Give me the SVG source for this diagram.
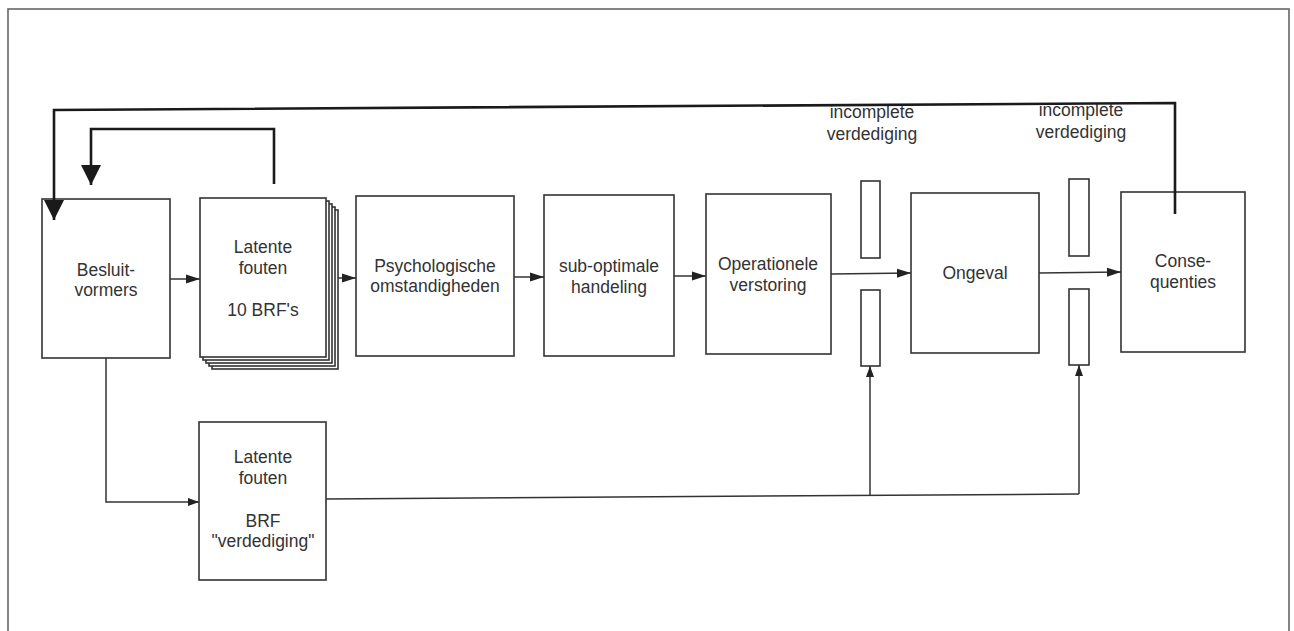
<svg xmlns="http://www.w3.org/2000/svg" width="1294" height="631" viewBox="0 0 1294 631">
<defs>
<marker id="arr" markerUnits="userSpaceOnUse" markerWidth="15" markerHeight="10" refX="14" refY="5" orient="auto">
<path d="M0,0.5 L14,5 L0,9.5 z" fill="#222"/>
</marker>
<marker id="arrS" markerUnits="userSpaceOnUse" markerWidth="12" markerHeight="10" refX="11" refY="4" orient="auto">
<path d="M0,0 L11,4 L0,8 z" fill="#222"/>
</marker>
<marker id="big" markerUnits="userSpaceOnUse" markerWidth="22" markerHeight="22" refX="20" refY="10" orient="auto">
<path d="M0,0 L20,10 L0,20 z" fill="#1a1a1a"/>
</marker>
<style>
.box{fill:#fff;stroke:#333;stroke-width:1.6}
.bar{fill:#fff;stroke:#333;stroke-width:1.6}
.ln{fill:none;stroke:#333;stroke-width:1.5}
.fb{fill:none;stroke:#1a1a1a;stroke-width:2.6}
text{font-family:"Liberation Sans",Arial,sans-serif;font-size:17.5px;fill:#333;text-anchor:middle}
</style>
</defs>
<rect x="8" y="9" width="1281" height="640" fill="#fff" stroke="#666" stroke-width="1.6"/>

<g id="besluitvormers">
<rect class="box" x="42" y="199" width="128" height="159"/>
<text x="106" y="276">Besluit-</text>
<text x="106" y="296">vormers</text>
</g>

<g id="latente-fouten-10">
<rect class="box" x="212" y="210" width="126" height="159"/>
<rect class="box" x="209" y="207" width="126" height="159"/>
<rect class="box" x="206" y="204" width="126" height="159"/>
<rect class="box" x="203" y="201" width="126" height="159"/>
<rect class="box" x="200" y="198" width="126" height="159"/>
<text x="263" y="253">Latente</text>
<text x="263" y="274">fouten</text>
<text x="263" y="316">10 BRF's</text>
</g>

<g id="psychologische">
<rect class="box" x="356" y="196" width="158" height="160"/>
<text x="435" y="272">Psychologische</text>
<text x="435" y="292">omstandigheden</text>
</g>

<g id="sub-optimale">
<rect class="box" x="544" y="195" width="130" height="161"/>
<text x="609" y="272">sub-optimale</text>
<text x="609" y="293">handeling</text>
</g>

<g id="operationele">
<rect class="box" x="706" y="194" width="125" height="160"/>
<text x="768" y="270">Operationele</text>
<text x="768" y="291">verstoring</text>
</g>

<g id="verdediging-1">
<rect class="bar" x="861" y="181" width="19" height="77"/>
<rect class="bar" x="861" y="290" width="19" height="76"/>
<text x="872" y="118">incomplete</text>
<text x="872" y="140">verdediging</text>
</g>

<g id="ongeval">
<rect class="box" x="911" y="193" width="128" height="160"/>
<text x="975" y="279">Ongeval</text>
</g>

<g id="verdediging-2">
<rect class="bar" x="1069" y="179" width="20" height="77"/>
<rect class="bar" x="1069" y="289" width="20" height="76"/>
<text x="1081" y="116">incomplete</text>
<text x="1081" y="138">verdediging</text>
</g>

<g id="consequenties">
<rect class="box" x="1121" y="192" width="124" height="160"/>
<text x="1183" y="267">Conse-</text>
<text x="1183" y="288">quenties</text>
</g>

<g id="latente-fouten-brf">
<rect class="box" x="199" y="422" width="127" height="158"/>
<text x="263" y="463">Latente</text>
<text x="263" y="484">fouten</text>
<text x="263" y="527">BRF</text>
<text x="263" y="547">"verdediging"</text>
</g>

<g id="connectors">
<polyline class="fb" points="1175,214 1175,103 54,110 54,220" marker-end="url(#big)"/>
<polyline class="fb" points="274,184 274,129 91,129 91,185" marker-end="url(#big)"/>
<line class="ln" x1="170" y1="279" x2="200" y2="279" marker-end="url(#arr)"/>
<line class="ln" x1="338" y1="278" x2="356" y2="278" marker-end="url(#arr)"/>
<line class="ln" x1="514" y1="277" x2="544" y2="277" marker-end="url(#arr)"/>
<line class="ln" x1="674" y1="276" x2="706" y2="276" marker-end="url(#arr)"/>
<line class="ln" x1="831" y1="274" x2="911" y2="273" marker-end="url(#arr)"/>
<line class="ln" x1="1039" y1="273" x2="1121" y2="272" marker-end="url(#arr)"/>
<polyline class="ln" points="106,358 106,502 199,502" marker-end="url(#arrS)"/>
<line class="ln" x1="326" y1="499" x2="1079" y2="494"/>
<line class="ln" x1="870" y1="496" x2="870" y2="366" marker-end="url(#arrS)"/>
<line class="ln" x1="1079" y1="494" x2="1079" y2="365" marker-end="url(#arrS)"/>
</g>
</svg>
